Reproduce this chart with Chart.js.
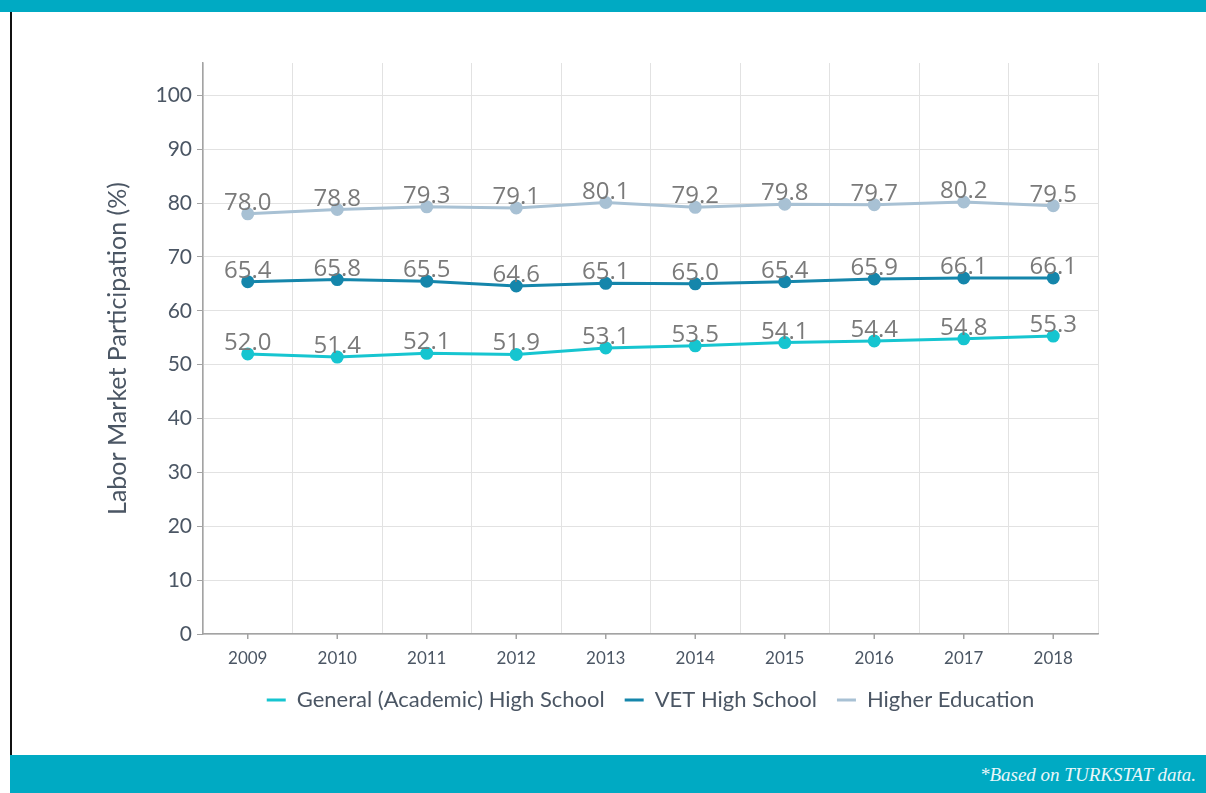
<!DOCTYPE html>
<html>
<head>
<meta charset="utf-8">
<script src="https://cdn.jsdelivr.net/npm/chart.js@4"></script>
<style>
  html, body { margin: 0; padding: 0; background: #ffffff; }
  body { width: 1206px; height: 793px; position: relative; overflow: hidden; }
  #topbar { position: absolute; left: 0; top: 0; width: 1206px; height: 12px; background: #00aac3; }
  #leftrule { position: absolute; left: 10px; top: 12px; width: 2px; height: 743px; background: #111; }
  #footer { position: absolute; left: 10px; top: 755px; width: 1196px; height: 38px; background: #00aac3; }
  #footer span { position: absolute; right: 10px; top: 9px; font-family: "Liberation Serif", "DejaVu Serif", serif;
    font-style: italic; font-size: 19px; color: #eaf7fa; }
  #wrap { position: absolute; left: 12px; top: 12px; width: 1194px; height: 743px; }
</style>
</head>
<body>
<div id="topbar"></div>
<div id="leftrule"></div>
<div id="wrap"><canvas id="chart"></canvas></div>
<div id="footer"><span>*Based on TURKSTAT data.</span></div>
<script>
// Labor market participation rates by education level, 2009–2018
const years = ['2009', '2010', '2011', '2012', '2013', '2014', '2015', '2016', '2017', '2018'];
const generalHighSchool = [52.0, 51.4, 52.1, 51.9, 53.1, 53.5, 54.1, 54.4, 54.8, 55.3];
const vetHighSchool = [65.4, 65.8, 65.5, 64.6, 65.1, 65.0, 65.4, 65.9, 66.1, 66.1];
const higherEducation = [78.0, 78.8, 79.3, 79.1, 80.1, 79.2, 79.8, 79.7, 80.2, 79.5];
const yTicks = [0, 10, 20, 30, 40, 50, 60, 70, 80, 90, 100];

const seriesNames = ['General (Academic) High School', 'VET High School', 'Higher Education'];
const seriesColors = ['#16c5d0', '#1586ab', '#a8c1d4'];

const textColor = '#4b5664';

// Value labels above each point
const valueLabels = {
  id: 'valueLabels',
  afterDatasetsDraw(chart) {
    const ctx = chart.ctx;
    ctx.save();
    ctx.font = '24px "Open Sans", sans-serif';
    ctx.fillStyle = '#7a7a7a';
    ctx.textAlign = 'center';
    ctx.textBaseline = 'alphabetic';
    chart.data.datasets.forEach((ds, di) => {
      const meta = chart.getDatasetMeta(di);
      meta.data.forEach((pt, i) => {
        ctx.fillText(ds.data[i].toFixed(1), pt.x, pt.y - 4);
      });
    });
    ctx.restore();
  }
};

// Small tick marks under the x axis, at each category centre
const categoryTicks = {
  id: 'categoryTicks',
  afterDraw(chart) {
    const x = chart.scales.x;
    const ctx = chart.ctx;
    ctx.save();
    ctx.strokeStyle = '#a3a3a3';
    ctx.lineWidth = 1.5;
    x.ticks.forEach((t, i) => {
      const px = x.getPixelForTick(i);
      ctx.beginPath();
      ctx.moveTo(px, x.top);
      ctx.lineTo(px, x.top + 5);
      ctx.stroke();
    });
    ctx.restore();
  }
};

const datasets = [generalHighSchool, vetHighSchool, higherEducation].map((values, i) => ({
  label: seriesNames[i],
  data: values,
  borderColor: seriesColors[i],
  backgroundColor: seriesColors[i],
  pointBackgroundColor: seriesColors[i],
  pointBorderColor: seriesColors[i],
  borderWidth: 3,
  pointRadius: 5,
  pointHoverRadius: 5,
  tension: 0,
  fill: false
}));

new Chart(document.getElementById('chart'), {
  type: 'line',
  data: { labels: years, datasets },
  options: {
    responsive: true,
    maintainAspectRatio: false,
    animation: false,
    layout: { padding: { left: 89, right: 108, top: 51, bottom: 34 } },
    plugins: {
      legend: {
        position: 'bottom',
        fullSize: false,
        labels: {
          usePointStyle: true,
          pointStyle: 'line',
          pointStyleWidth: 19,
          padding: 20,
          color: textColor,
          font: { family: 'Lato', size: 22 }
        }
      },
      tooltip: { enabled: false }
    },
    scales: {
      x: {
        offset: true,
        grid: {
          offset: true,
          drawTicks: false,
          color: (c) => (c.index === years.length ? 'rgba(0,0,0,0)' : '#e2e2e2'),
          lineWidth: 1
        },
        border: { color: '#a3a3a3', width: 1.5 },
        ticks: {
          color: textColor,
          padding: 14,
          font: { family: 'Lato', size: 17 }
        },
        afterFit(scale) { scale.height = 35; }
      },
      y: {
        min: 0,
        max: 106,
        afterBuildTicks(scale) { scale.ticks = yTicks.map(v => ({ value: v })); },
        grid: {
          color: '#e2e2e2',
          lineWidth: 1,
          tickColor: '#a3a3a3',
          tickLength: 6
        },
        border: { color: '#a3a3a3', width: 1.5 },
        ticks: {
          color: textColor,
          padding: 5,
          font: { family: 'Lato', size: 21 }
        },
        title: {
          display: true,
          text: 'Labor Market Participation (%)',
          color: textColor,
          font: { family: 'Lato', size: 25 },
          padding: 2
        },
        afterFit(scale) { scale.width = 102; }
      }
    }
  },
  plugins: [valueLabels, categoryTicks]
});
</script>
</body>
</html>
